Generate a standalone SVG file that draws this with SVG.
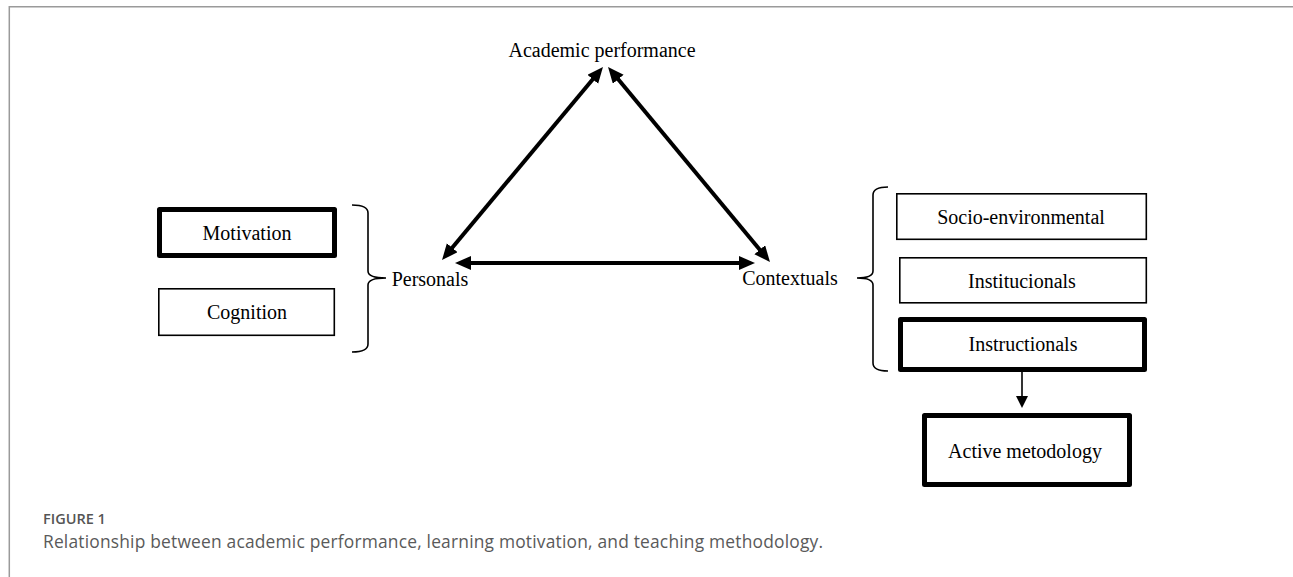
<svg xmlns="http://www.w3.org/2000/svg" width="1293" height="577" viewBox="0 0 1293 577">
  <style>
    .lbl { font-family: "Liberation Serif", "Times New Roman", serif; font-size: 20px; fill: #000; text-anchor: middle; }
    .thin { fill: #fff; stroke: #000; stroke-width: 1.6; }
    .thick { fill: #fff; stroke: #000; stroke-width: 5; stroke-linejoin: round; }
    .conn { stroke: #000; stroke-width: 4; fill: none; }
    .brace { stroke: #000; stroke-width: 1.6; fill: none; }
    .frame { stroke: #9a9a9a; stroke-width: 1.5; fill: none; }
    .capt1 { font-family: "Open Sans", "Liberation Sans", sans-serif; font-size: 14.5px; font-weight: 600; fill: #555; }
    .capt2 { font-family: "Open Sans", "Liberation Sans", sans-serif; font-size: 17.4px; fill: #5a5a5a; }
  </style>
  <defs>
    <marker id="ah" markerUnits="userSpaceOnUse" markerWidth="18" markerHeight="16" viewBox="0 0 18 16" refX="4" refY="7" orient="auto-start-reverse">
      <path d="M0,0 L16,7 L0,14 z" fill="#000"/>
    </marker>
  </defs>
  <rect width="1293" height="577" fill="#fff"/>
  <g id="frame">
    <path class="frame" d="M9.3,577 L9.3,6.75 L1293,6.75"/>
  </g>

  <g id="node-academic">
    <text class="lbl" x="602" y="57">Academic performance</text>
  </g>
  <g id="node-personals">
    <text class="lbl" x="430" y="286">Personals</text>
  </g>
  <g id="node-contextuals">
    <text class="lbl" x="790" y="285">Contextuals</text>
  </g>

  <g id="node-motivation">
    <rect class="thick" x="159.5" y="209.5" width="175" height="46"/>
    <text class="lbl" x="247" y="240">Motivation</text>
  </g>
  <g id="node-cognition">
    <rect class="thin" x="158.8" y="288.8" width="175.5" height="46.5"/>
    <text class="lbl" x="247" y="319">Cognition</text>
  </g>

  <g id="node-socio">
    <rect class="thin" x="896.8" y="193.8" width="249.5" height="45.5"/>
    <text class="lbl" x="1021" y="224">Socio-environmental</text>
  </g>
  <g id="node-institucionals">
    <rect class="thin" x="899.8" y="257.8" width="246.5" height="45"/>
    <text class="lbl" x="1022" y="288">Institucionals</text>
  </g>
  <g id="node-instructionals">
    <rect class="thick" x="900.5" y="319.5" width="244" height="50"/>
    <text class="lbl" x="1023" y="351">Instructionals</text>
  </g>
  <g id="node-active">
    <rect class="thick" x="924.5" y="415.5" width="205" height="69"/>
    <text class="lbl" x="1025" y="458">Active metodology</text>
  </g>

  <g id="braces">
    <path class="brace" d="M352,205 Q368,205 368,213 L368,271 Q368,278 386,278 Q368,278 368,285 L368,344 Q368,352 352,352"/>
    <path class="brace" d="M888,187 Q873,187 873,195 L873,271 Q873,278 857,278 Q873,278 873,285 L873,363 Q873,371 888,371"/>
  </g>

  <g id="connectors">
    <line class="conn" x1="449.7" y1="250.8" x2="595.3" y2="76.2" marker-start="url(#ah)" marker-end="url(#ah)"/>
    <line class="conn" x1="615.7" y1="76.2" x2="762.3" y2="252.8" marker-start="url(#ah)" marker-end="url(#ah)"/>
    <line class="conn" x1="467" y1="263" x2="743" y2="263" marker-start="url(#ah)" marker-end="url(#ah)"/>
    <line x1="1022" y1="372" x2="1022" y2="397" stroke="#000" stroke-width="1.6"/>
    <polygon points="1016,396 1028,396 1022,408" fill="#000"/>
  </g>

  <g id="caption">
    <text class="capt1" x="43" y="524">FIGURE 1</text>
    <text class="capt2" x="43" y="548" textLength="780" lengthAdjust="spacing">Relationship between academic performance, learning motivation, and teaching methodology.</text>
  </g>
</svg>
